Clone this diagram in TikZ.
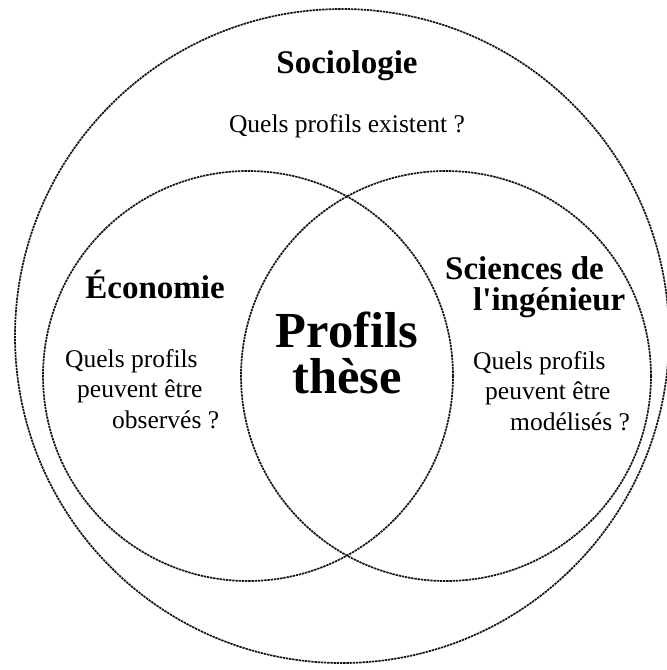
\documentclass[tikz,border=0pt]{standalone}
\usepackage{fontspec}
\setmainfont{Liberation Serif}
\usepackage{xcolor}
\usetikzlibrary{positioning}
\definecolor{rings}{rgb}{0.08, 0.08, 0.08}

\tikzset{
    ring/.style={draw=rings, line width=1.7pt, dash pattern=on 2.4pt off 0.8pt},
    field/.style={font=\fontsize{33}{31}\selectfont\bfseries, align=left, inner sep=0pt},
    question/.style={font=\fontsize{25.5}{30.5}\selectfont, align=left, inner sep=0pt},
    core/.style={font=\fontsize{50.5}{46}\selectfont\bfseries, align=center, inner sep=0pt}
}

\begin{document}
\begin{tikzpicture}[x=1pt,y=-1pt]
    \pgfmathsetmacro{\bigradius}{327} % outer circle
    \pgfmathsetmacro{\smallradius}{205} % the two inner circles
    \pgfmathsetmacro{\shift}{99} % half the distance between the inner centres

    \useasboundingbox (0,0) rectangle (667,670);

    \coordinate (outer) at (342,336);
    \coordinate (mid) at (347,376);
    \draw[ring] (outer) circle[radius=\bigradius pt];
    \draw[ring] ([xshift=-\shift pt]mid) circle[radius=\smallradius pt];
    \draw[ring] ([xshift=\shift pt]mid) circle[radius=\smallradius pt];

    % base of a multi-line node sits on its last line
    \node[field, anchor=base] (socio) at (347,73) {Sociologie};
    \node[question, anchor=base] (socioq) at (347,132) {Quels profils existent ?};

    \node[field, anchor=base] (eco) at (155,298) {Économie};
    \node[question, anchor=base west] (ecoq) at (65,428) {Quels profils\\ \hspace*{12pt}peuvent être\\ \hspace*{47pt}observés ?};

    \node[field, anchor=base west] (sci) at (445,310) {Sciences de\\ \hspace*{28pt}l\textquotesingle ingénieur};
    \node[question, anchor=base west] (sciq) at (473,430) {Quels profils\\ \hspace*{12pt}peuvent être\\ \hspace*{37pt}modélisés ?};

    \node[core, anchor=base] (these) at (347,393) {Profils\\ thèse}; % the overlap in the middle
\end{tikzpicture}
\end{document}
